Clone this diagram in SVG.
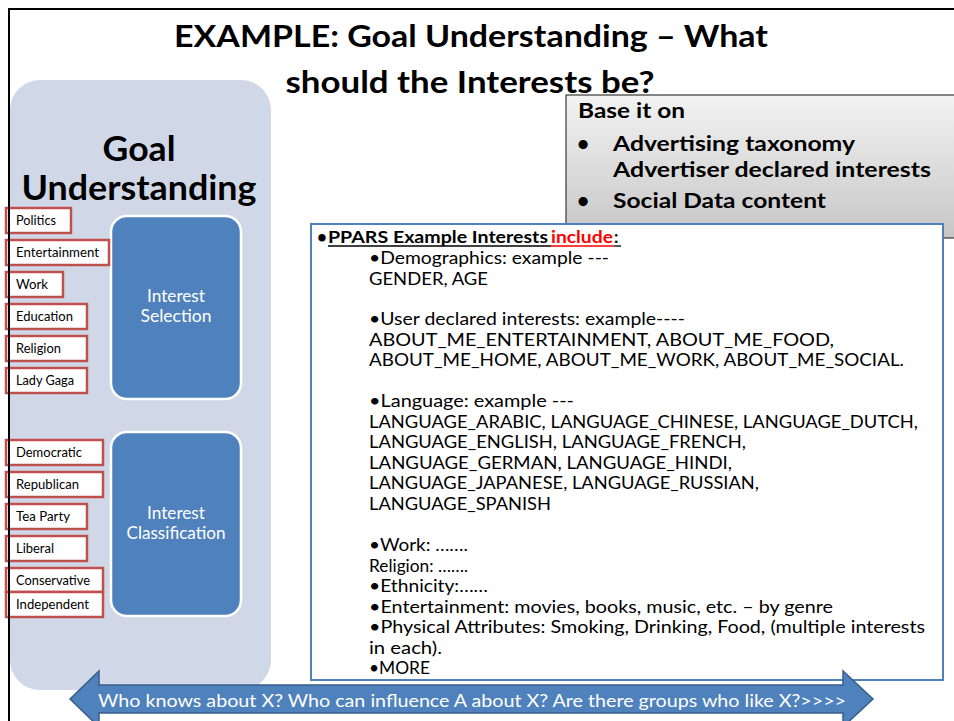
<svg xmlns="http://www.w3.org/2000/svg" width="954" height="721" viewBox="0 0 954 721">
<defs>
<linearGradient id="gray" x1="0" y1="0" x2="0" y2="1">
<stop offset="0" stop-color="#f3f3f3"/>
<stop offset="1" stop-color="#c6c6c6"/>
</linearGradient>
<style>
.t{font-family:Lato,"Liberation Sans",sans-serif;}
.b{font-weight:bold;}
.tag rect{fill:#ffffff;stroke:#c0504d;stroke-width:2.5;}
.tag text{font-family:Lato,"Liberation Sans",sans-serif;font-size:12.5px;fill:#000;}
.blue rect{fill:#4f81bd;stroke:#ffffff;stroke-width:2.5;}
.blue text{font-family:Lato,"Liberation Sans",sans-serif;font-size:17px;fill:#ffffff;text-anchor:middle;}
.body{font-family:Lato,"Liberation Sans",sans-serif;font-size:18px;fill:#000;}
</style>
</defs>
<rect x="0" y="0" width="954" height="721" fill="#ffffff"/>

<g id="goal-understanding">
<rect x="10" y="80" width="261" height="610" rx="30" ry="30" fill="#d0d8e8"/>
<text class="t b" x="139" y="161" font-size="34" text-anchor="middle" textLength="73" lengthAdjust="spacingAndGlyphs">Goal</text>
<text class="t b" x="139" y="200" font-size="34" text-anchor="middle" textLength="235" lengthAdjust="spacingAndGlyphs">Understanding</text>
</g>

<g id="interest-selection" class="blue">
<rect x="111" y="216" width="130" height="183" rx="16" ry="16"/>
<text x="176" y="302" textLength="58" lengthAdjust="spacingAndGlyphs">Interest</text>
<text x="176" y="322" textLength="71" lengthAdjust="spacingAndGlyphs">Selection</text>
</g>

<g id="interest-classification" class="blue">
<rect x="111" y="432" width="130" height="184" rx="16" ry="16"/>
<text x="176" y="519" textLength="58" lengthAdjust="spacingAndGlyphs">Interest</text>
<text x="176" y="539" textLength="99" lengthAdjust="spacingAndGlyphs">Classification</text>
</g>

<g id="tag-politics" class="tag"><rect x="6" y="208" width="65" height="25"/><text x="16" y="225" textLength="40" lengthAdjust="spacingAndGlyphs">Politics</text></g>
<g id="tag-entertainment" class="tag"><rect x="6" y="240" width="103" height="25"/><text x="16" y="257" textLength="83" lengthAdjust="spacingAndGlyphs">Entertainment</text></g>
<g id="tag-work" class="tag"><rect x="6" y="272" width="57" height="25"/><text x="16" y="289" textLength="32" lengthAdjust="spacingAndGlyphs">Work</text></g>
<g id="tag-education" class="tag"><rect x="6" y="304" width="81" height="25"/><text x="16" y="321" textLength="57" lengthAdjust="spacingAndGlyphs">Education</text></g>
<g id="tag-religion" class="tag"><rect x="6" y="336" width="81" height="25"/><text x="16" y="353" textLength="45" lengthAdjust="spacingAndGlyphs">Religion</text></g>
<g id="tag-ladygaga" class="tag"><rect x="6" y="368" width="81" height="25"/><text x="16" y="385" textLength="58" lengthAdjust="spacingAndGlyphs">Lady Gaga</text></g>
<g id="tag-democratic" class="tag"><rect x="6" y="440" width="97" height="25"/><text x="16" y="457" textLength="66" lengthAdjust="spacingAndGlyphs">Democratic</text></g>
<g id="tag-republican" class="tag"><rect x="6" y="472" width="97" height="25"/><text x="16" y="489" textLength="63" lengthAdjust="spacingAndGlyphs">Republican</text></g>
<g id="tag-teaparty" class="tag"><rect x="6" y="504" width="81" height="25"/><text x="16" y="521" textLength="54" lengthAdjust="spacingAndGlyphs">Tea Party</text></g>
<g id="tag-liberal" class="tag"><rect x="6" y="536" width="81" height="25"/><text x="16" y="553" textLength="38" lengthAdjust="spacingAndGlyphs">Liberal</text></g>
<g id="tag-conservative" class="tag"><rect x="6" y="568" width="97" height="24"/><text x="16" y="585" textLength="74" lengthAdjust="spacingAndGlyphs">Conservative</text></g>
<g id="tag-independent" class="tag"><rect x="6" y="592" width="97" height="25"/><text x="16" y="609" textLength="73" lengthAdjust="spacingAndGlyphs">Independent</text></g>

<g id="title">
<text class="t b" x="471" y="47" font-size="30" text-anchor="middle" textLength="594" lengthAdjust="spacingAndGlyphs">EXAMPLE: Goal Understanding – What</text>
</g>

<g id="base-it-on">
<rect x="566" y="95" width="400" height="143" fill="url(#gray)" stroke="#3a3a3a" stroke-width="1.2"/>
<text class="t b" x="470" y="93" font-size="30" text-anchor="middle" textLength="369" lengthAdjust="spacingAndGlyphs">should the Interests be?</text>
<text class="t b" x="578" y="118" font-size="21" textLength="107" lengthAdjust="spacingAndGlyphs">Base it on</text>
<text class="t b" x="577" y="151" font-size="21">•</text>
<text class="t b" x="613" y="151" font-size="21" textLength="242" lengthAdjust="spacingAndGlyphs">Advertising taxonomy</text>
<text class="t b" x="613" y="177" font-size="21" textLength="318" lengthAdjust="spacingAndGlyphs">Advertiser declared interests</text>
<text class="t b" x="577" y="208" font-size="21">•</text>
<text class="t b" x="613" y="208" font-size="21" textLength="213" lengthAdjust="spacingAndGlyphs">Social Data content</text>
</g>

<g id="ppars-examples">
<rect x="311" y="224" width="632" height="456" fill="#ffffff" stroke="#4f81bd" stroke-width="2"/>
<text class="t b" x="317" y="243" font-size="17">•</text>
<text class="t b" x="328" y="243" font-size="17" textLength="220" lengthAdjust="spacingAndGlyphs">PPARS Example Interests</text>
<text class="t b" x="551" y="243" font-size="17" fill="#ff0000" textLength="62" lengthAdjust="spacingAndGlyphs">include</text>
<text class="t b" x="614" y="243" font-size="17">:</text>
<line x1="328" y1="246" x2="551" y2="246" stroke="#000" stroke-width="1.3"/>
<line x1="551" y1="246" x2="614" y2="246" stroke="#ff0000" stroke-width="1.3"/>
<line x1="614" y1="246" x2="621" y2="246" stroke="#000" stroke-width="1.3"/>
<text class="body" x="369" y="264" textLength="240" lengthAdjust="spacingAndGlyphs">•Demographics: example ---</text>
<text class="body" x="369" y="285" textLength="119" lengthAdjust="spacingAndGlyphs">GENDER, AGE</text>
<text class="body" x="369" y="325" textLength="316" lengthAdjust="spacingAndGlyphs">•User declared interests: example----</text>
<text class="body" x="369" y="346" textLength="465" lengthAdjust="spacingAndGlyphs">ABOUT_ME_ENTERTAINMENT, ABOUT_ME_FOOD,</text>
<text class="body" x="369" y="366" textLength="535" lengthAdjust="spacingAndGlyphs">ABOUT_ME_HOME, ABOUT_ME_WORK, ABOUT_ME_SOCIAL.</text>
<text class="body" x="369" y="407" textLength="205" lengthAdjust="spacingAndGlyphs">•Language: example ---</text>
<text class="body" x="369" y="428" textLength="549" lengthAdjust="spacingAndGlyphs">LANGUAGE_ARABIC, LANGUAGE_CHINESE, LANGUAGE_DUTCH,</text>
<text class="body" x="369" y="448" textLength="377" lengthAdjust="spacingAndGlyphs">LANGUAGE_ENGLISH, LANGUAGE_FRENCH,</text>
<text class="body" x="369" y="469" textLength="363" lengthAdjust="spacingAndGlyphs">LANGUAGE_GERMAN, LANGUAGE_HINDI,</text>
<text class="body" x="369" y="489" textLength="390" lengthAdjust="spacingAndGlyphs">LANGUAGE_JAPANESE, LANGUAGE_RUSSIAN,</text>
<text class="body" x="369" y="510" textLength="182" lengthAdjust="spacingAndGlyphs">LANGUAGE_SPANISH</text>
<text class="body" x="369" y="551" textLength="99" lengthAdjust="spacingAndGlyphs">•Work: …….</text>
<text class="body" x="369" y="572" textLength="99" lengthAdjust="spacingAndGlyphs">Religion: …….</text>
<text class="body" x="369" y="592" textLength="119" lengthAdjust="spacingAndGlyphs">•Ethnicity:……</text>
<text class="body" x="369" y="613" textLength="464" lengthAdjust="spacingAndGlyphs">•Entertainment: movies, books, music, etc. – by genre</text>
<text class="body" x="369" y="633" textLength="556" lengthAdjust="spacingAndGlyphs">•Physical Attributes: Smoking, Drinking, Food, (multiple interests</text>
<text class="body" x="369" y="654" textLength="73" lengthAdjust="spacingAndGlyphs">in each).</text>
<text class="body" x="369" y="674" textLength="61" lengthAdjust="spacingAndGlyphs">•MORE</text>
</g>

<g id="connectors">
<path d="M70,699 L99,671 L99,685 L843,685 L843,671 L873,699 L843,727 L843,713 L99,713 L99,727 Z" fill="#4f81bd" stroke="#385d8a" stroke-width="1.5" stroke-linejoin="miter"/>
<text class="t" x="98" y="707" font-size="17" fill="#ffffff" textLength="748" lengthAdjust="spacingAndGlyphs">Who knows about X? Who can influence A about X?  Are there groups who like X?&gt;&gt;&gt;&gt;</text>
</g>

<g id="slide-border">
<line x1="8" y1="9" x2="954" y2="9" stroke="#000" stroke-width="2"/>
<line x1="9" y1="8" x2="9" y2="721" stroke="#000" stroke-width="2"/>
</g>
</svg>
